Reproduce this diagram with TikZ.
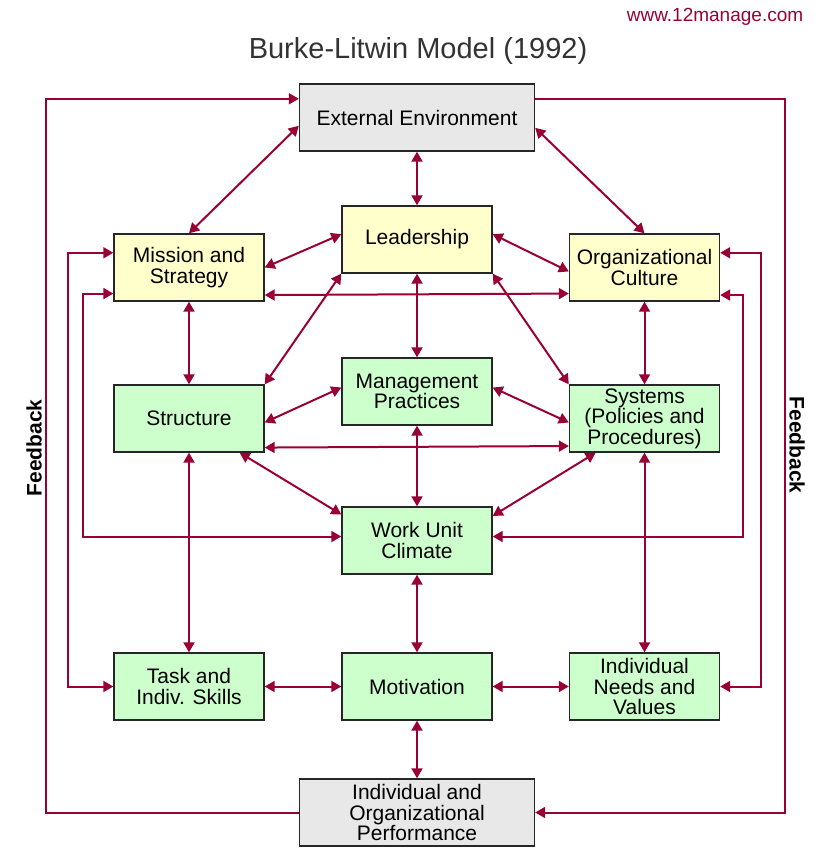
\documentclass[tikz,border=0pt]{standalone}
\usepackage{fontspec}
\setmainfont{Liberation Sans}
\usepackage{xcolor}
\usepackage{tikz}
\usetikzlibrary{arrows.meta,calc,positioning}
\definecolor{cy}{RGB}{255,255,204}
\definecolor{cg}{RGB}{204,255,204}
\definecolor{cgr}{RGB}{232,232,232}
\definecolor{cl}{RGB}{153,0,51}
\definecolor{ct}{RGB}{51,51,51}
\tikzset{
  box/.style={draw=black!85, line width=0.7pt, minimum width=75pt, minimum height=33.5pt, align=center, inner sep=1pt, font=\fontsize{10.5}{10.3}\selectfont},
  wide/.style={box, minimum width=117.5pt},
  edge/.style={{Triangle[length=5pt,width=5.5pt]}-{Triangle[length=5pt,width=5.5pt]}, draw=cl, line width=1pt},
  feed/.style={-{Triangle[length=5pt,width=5.5pt]}, draw=cl, line width=1pt},
  side/.style={font=\bfseries\fontsize{10.5}{12}\selectfont}
}

\begin{document}
\begin{tikzpicture}[x=0.5pt, y=-0.5pt]
    \useasboundingbox (0,0) rectangle (822,865);

    \node [font=\fontsize{9.5}{11}\selectfont, text=cl] (url) at (715,17) {www.12manage.com};
    \node [font=\fontsize{14.5}{16}\selectfont, text=ct] (title) at (418,51) {Burke-Litwin Model (1992)};

    \node [wide, fill=cgr] (ext) at (417,117.5) {External Environment};
    \node [box, fill=cy] (lead) at (417,239.5) {Leadership};
    \node [box, fill=cy] (mis) at (189,267.5) {Mission and\\Strategy};
    \node [box, fill=cy] (cult) at (644.5,267.5) {Organizational\\Culture};
    \node [box, fill=cg] (mgmt) at (417,391.5) {Management\\Practices};
    \node [box, fill=cg] (struc) at (189,418.5) {Structure};
    \node [box, fill=cg] (sys) at (644.5,418.5) {Systems\\(Policies and\\Procedures)};
    \node [box, fill=cg] (wuc) at (417,540.5) {Work Unit\\Climate};
    \node [box, fill=cg] (task) at (189,686.5) {Task and\\Indiv. Skills};
    \node [box, fill=cg] (motiv) at (417,686.5) {Motivation};
    \node [box, fill=cg] (needs) at (644.5,686.5) {Individual\\Needs and\\Values};
    \node [wide, fill=cgr] (perf) at (417,812.5) {Individual and\\Organizational\\Performance};

    \node [side, rotate=90] (fbl) at (34,448) {Feedback};
    \node [side, rotate=-90] (fbr) at (797,445) {Feedback};

    \coordinate (railL) at (46,812.5);
    \coordinate (railR) at (785,812.5);
    \coordinate (railA) at (68,0);
    \coordinate (railB) at (83,0);
    \coordinate (railC) at (743,0);
    \coordinate (railD) at (761,0);

    \draw [edge] (ext) -- (lead);
    \draw [edge] (ext.184.6) -- (mis.north);
    \draw [edge] (ext.355.4) -- (cult.north);
    \draw [edge] (lead.176) -- (mis.east);
    \draw [edge] (lead.4) -- (cult.183);
    \draw [edge] (lead.south west) -- (struc.north east);
    \draw [edge] (lead.south east) -- (sys.north west);
    \draw [edge] (lead) -- (mgmt);
    \draw [edge] (mis) -- (struc);
    \draw [edge] (cult) -- (sys);
    \draw [edge] (mis.340.5) -- (cult.199.5);
    \draw [edge] (mgmt.177) -- (struc.357);
    \draw [edge] (mgmt.3) -- (sys.183);
    \draw [edge] (struc.339.9) -- (sys.200.1);
    \draw [edge] (struc.326.7) -- (wuc.161.3);
    \draw [edge] (sys.215.2) -- (wuc.18.7);
    \draw [edge] (mgmt) -- (wuc);
    \draw [edge] (wuc) -- (motiv);
    \draw [edge] (motiv) -- (perf);
    \draw [edge] (struc) -- (task);
    \draw [edge] (sys) -- (needs);
    \draw [edge] (task) -- (motiv);
    \draw [edge] (motiv) -- (needs);

    \draw [edge] (mis.169) -| (railA |- task.west) -- (task.west);
    \draw [edge] (mis.199.5) -| (railB |- wuc.177) -- (wuc.177);
    \draw [edge] (cult.11) -| (railD |- needs.east) -- (needs.east);
    \draw [edge] (cult.340.5) -| (railC |- wuc.3) -- (wuc.3);

    \draw [feed] (ext.9) -| (railR) -- (perf.east);
    \draw [feed] (perf.west) -- (railL) |- (ext.171.1);
\end{tikzpicture}
\end{document}
